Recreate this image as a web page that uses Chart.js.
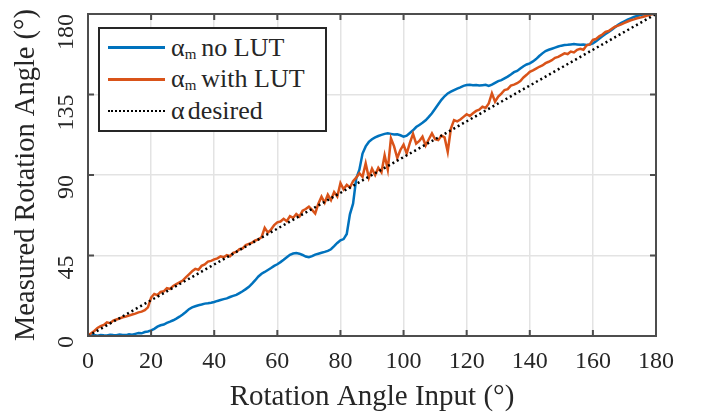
<!DOCTYPE html>
<html>
<head>
<meta charset="utf-8">
<script src="https://cdn.jsdelivr.net/npm/chart.js@4.4.1/dist/chart.umd.min.js"></script>
<style>
  html, body { margin: 0; padding: 0; background: #fff; }
  #wrap { position: relative; width: 702px; height: 415px; }
  #legend {
    position: absolute; left: 98px; top: 27px; width: 229px; height: 105px;
    box-sizing: border-box; border: 2px solid #262626; background: #fff;
    font-family: "Liberation Serif", "Times New Roman", serif; font-size: 26px; color: #262626;
    padding-top: 3px;
  }
  .row { height: 31.5px; display: flex; align-items: center; white-space: nowrap; }
  .sample { width: 57px; margin-left: 8px; margin-right: 6px; height: 0; }
  .row sub { font-size: 15px; vertical-align: -3px; }
</style>
</head>
<body>
<div id="wrap">
  <canvas id="c" width="702" height="415"></canvas>
  <div id="legend"></div>
</div>
<script>
const inputAngles = [0,1,2,3,4,5,6,7,8,9,10,11,12,13,14,15,16,17,18,19,20,21,22,23,24,25,26,27,28,29,30,31,32,33,34,35,36,37,38,39,40,41,42,43,44,45,46,47,48,49,50,51,52,53,54,55,56,57,58,59,60,61,62,63,64,65,66,67,68,69,70,71,72,73,74,75,76,77,78,79,80,81,82,83,84,85,86,87,88,89,90,91,92,93,94,95,96,97,98,99,100,101,102,103,104,105,106,107,108,109,110,111,112,113,114,115,116,117,118,119,120,121,122,123,124,125,126,127,128,129,130,131,132,133,134,135,136,137,138,139,140,141,142,143,144,145,146,147,148,149,150,151,152,153,154,155,156,157,158,159,160,161,162,163,164,165,166,167,168,169,170,171,172,173,174,175,176,177,178,179,180];

const noLUT = [0,0.3,0.5,0.2,0.6,0.4,0.3,0.7,0.5,0.4,0.8,0.6,0.5,0.9,0.7,1.2,1.7,1.5,2.2,2.5,3.1,4.0,5.2,6.0,6.4,7.3,8.0,8.8,9.7,10.8,12.0,13.4,15.0,16.0,16.6,17.2,17.6,18.1,18.3,18.6,19.0,19.6,20.1,20.6,21.0,21.8,22.4,23.0,24.0,25.0,26.2,27.5,29.3,31.2,33.3,34.8,35.8,36.9,38.0,39.2,40.1,41.3,42.6,44.0,45.4,46.1,46.4,46.0,45.3,44.4,44.0,44.6,45.5,46.0,46.5,47.0,47.6,48.5,50.2,52.0,53.5,54.2,57.0,68.0,74.0,88.0,93.0,102.0,106.0,108.5,110.0,111.0,111.8,112.4,113.0,113.3,113.0,112.6,112.8,112.2,111.4,112.0,113.5,115.0,116.8,118.0,119.2,120.6,122.5,124.5,127.0,129.5,132.0,134.0,135.6,136.6,137.5,138.3,139.0,139.8,140.3,140.4,140.2,140.3,140.0,140.2,140.4,139.8,140.5,141.5,142.5,143.0,144.0,145.0,146.2,147.5,148.2,149.5,150.8,151.8,152.4,153.5,154.8,156.5,158.0,159.3,160.0,160.6,161.2,161.8,162.3,162.7,162.8,163.0,163.2,163.0,162.8,162.9,162.7,163.0,163.6,164.8,166.2,167.5,168.8,170.0,171.2,172.6,174.0,175.0,175.9,176.8,177.6,178.3,178.9,179.4,179.7,179.9,180,180,180];

const withLUT = [0.5,1.5,2.8,4.5,5.5,6.2,7.6,7.2,8.6,9.2,9.8,10.5,10.9,11.4,12.0,12.5,13.2,13.6,14.4,16.0,21.5,23.5,22.8,24.6,25.0,26.7,26.3,28.0,29.0,30.0,31.0,32.8,34.5,36.2,37.5,37.0,39.2,40.0,41.6,42.0,42.8,43.4,44.5,44.0,45.2,44.6,46.5,47.0,48.5,49.0,50.8,51.5,52.2,53.4,54.0,55.2,60.5,57.8,59.5,62.0,63.5,64.0,65.5,64.2,67.0,66.0,68.2,66.8,70.0,71.0,72.3,70.5,68.5,74.0,77.9,74.5,79.0,76.0,80.5,78.0,85.5,82.0,84.5,83.0,86.5,88.5,91.0,89.0,96.5,88.5,93.5,90.0,94.0,91.5,101.0,93.0,110.5,106.0,99.5,104.0,107.0,102.0,108.0,113.0,107.5,109.0,111.4,106.5,110.0,113.3,110.0,109.5,112.0,111.0,103.0,116.0,120.7,120.0,121.0,122.5,124.0,123.0,124.5,125.8,126.5,128.2,127.5,130.0,135.7,131.0,133.8,135.5,137.5,138.0,140.0,140.5,141.3,142.5,144.5,146.0,147.7,148.5,149.5,150.5,151.2,152.5,153.3,154.2,155.5,156.0,157.0,158.0,157.6,159.0,158.5,160.0,160.5,160.0,162.5,163.0,165.5,166.0,167.5,168.5,170.0,170.5,171.8,172.9,173.5,174.2,175.0,175.8,176.5,177.0,177.6,178.0,178.5,179.0,179.5,180.0,180.0];

const desiredX = [0, 180];
const desiredY = [0, 180];

const xTicks = [0,20,40,60,80,100,120,140,160,180];
const yTicks = [0,45,90,135,180];

const seriesNames = ['αₘ no LUT', 'αₘ with LUT', 'α desired'];

const toPts = (xs, ys) => xs.map((x, i) => ({x: x, y: ys[i]}));

const FONT = '"Liberation Serif", "Times New Roman", serif';

const frame = {
  id: 'frame',
  afterDatasetsDraw(chart) {
    const {ctx, chartArea: a, scales} = chart;
    ctx.save();
    ctx.strokeStyle = '#4d4d4d';
    ctx.lineWidth = 2;
    ctx.beginPath();
    const L = 6;
    xTicks.forEach(v => {
      const px = scales.x.getPixelForValue(v);
      ctx.moveTo(px, a.bottom); ctx.lineTo(px, a.bottom - L);
      ctx.moveTo(px, a.top); ctx.lineTo(px, a.top + L);
    });
    yTicks.forEach(v => {
      const py = scales.y.getPixelForValue(v);
      ctx.moveTo(a.left, py); ctx.lineTo(a.left + L, py);
      ctx.moveTo(a.right, py); ctx.lineTo(a.right - L, py);
    });
    ctx.stroke();
    ctx.strokeRect(a.left, a.top, a.right - a.left, a.bottom - a.top);
    ctx.restore();
  }
};

const htmlLegend = {
  id: 'htmlLegend',
  afterUpdate(chart) {
    const el = document.getElementById('legend');
    el.innerHTML = '';
    chart.data.datasets.forEach(ds => {
      const row = document.createElement('div');
      row.className = 'row';
      const s = document.createElement('div');
      s.className = 'sample';
      if (ds.borderDash && ds.borderDash.length) {
        s.style.borderTop = '2.5px dotted ' + ds.borderColor;
      } else {
        s.style.borderTop = '3px solid ' + ds.borderColor;
      }
      row.appendChild(s);
      const t = document.createElement('span');
      t.innerHTML = ds.label
        .replace('ₘ ', '<sub>m</sub><span style="margin-left:5px"></span>')
        .replace('α ', 'α<span style="margin-left:3px"></span>');
      row.appendChild(t);
      el.appendChild(row);
    });
  }
};

new Chart(document.getElementById('c'), {
  type: 'line',
  data: {
    datasets: [
      { label: seriesNames[0], data: toPts(inputAngles, noLUT), borderColor: '#0072BD', borderWidth: 2.5, pointRadius: 0, tension: 0, order: 2 },
      { label: seriesNames[1], data: toPts(inputAngles, withLUT), borderColor: '#D95319', borderWidth: 2.5, pointRadius: 0, tension: 0, order: 1 },
      { label: seriesNames[2], data: toPts(desiredX, desiredY), borderColor: '#000000', borderWidth: 2.5, borderDash: [2, 3], borderCapStyle: 'butt', pointRadius: 0, order: 0 }
    ]
  },
  options: {
    responsive: false,
    animation: false,
    events: [],
    layout: { padding: { top: 14, right: 46, left: 0, bottom: 0 } },
    plugins: { legend: { display: false }, tooltip: { enabled: false } },
    scales: {
      x: {
        type: 'linear', min: 0, max: 180,
        afterBuildTicks: s => { s.ticks = xTicks.map(v => ({value: v})); },
        afterFit: s => { s.height = 79; s.paddingLeft = 0; s.paddingRight = 0; },
        grid: { color: '#e3e3e3', lineWidth: 1.5, drawTicks: false },
        border: { display: false },
        ticks: { color: '#262626', font: { family: FONT, size: 24 }, padding: 11, maxRotation: 0 },
        title: { display: true, text: 'Rotation Angle Input (°)', color: '#262626', font: { family: FONT, size: 29 }, padding: { top: 0, bottom: 0 } }
      },
      y: {
        type: 'linear', min: 0, max: 180,
        afterBuildTicks: s => { s.ticks = yTicks.map(v => ({value: v})); },
        afterFit: s => { s.width = 88; s.paddingTop = 0; s.paddingBottom = 0; },
        grid: { color: '#e3e3e3', lineWidth: 1.5, drawTicks: false },
        border: { display: false },
        ticks: { color: '#262626', font: { family: FONT, size: 24 }, padding: 21, minRotation: 90, maxRotation: 90 },
        title: { display: true, text: 'Measured Rotation Angle (°)', color: '#262626', font: { family: FONT, size: 28.5 }, padding: { top: 9, bottom: 0 } }
      }
    }
  },
  plugins: [frame, htmlLegend]
});
</script>
</body>
</html>
